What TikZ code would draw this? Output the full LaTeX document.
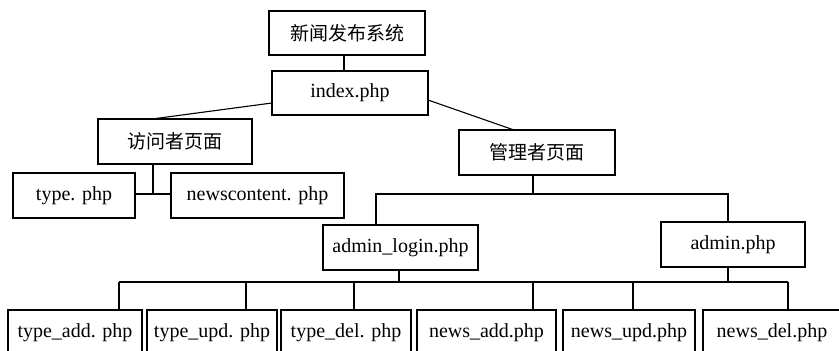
\documentclass[tikz,border=0pt]{standalone}
\usepackage{fontspec}
\setmainfont{Liberation Serif}
\newfontfamily\cjk{Noto Sans CJK SC}[Scale=0.95]
\begin{document}
\begin{tikzpicture}[x=1pt,y=-1pt,
  box/.style={draw, line width=1.1pt, inner sep=0pt, font=\fontsize{20}{22}\selectfont},
  conn/.style={line width=1.1pt}]
\useasboundingbox (0,0) rectangle (839,351);
\clip (0,0) rectangle (839,351);
% top levels
\node[box, minimum width=156pt, minimum height=44pt] (sys) at (347,33) {\cjk 新闻发布系统};
\node[box, minimum width=156pt, minimum height=44pt] (index) at (350,93) {index.php};
\node[box, minimum width=154pt, minimum height=45pt] (visitor) at (175,141.5) {\cjk 访问者页面};
\node[box, minimum width=156pt, minimum height=45pt] (manager) at (537,152.5) {\cjk 管理者页面};
\node[box, minimum width=122pt, minimum height=45pt] (type) at (74,195.5) {type. php};
\node[box, minimum width=173pt, minimum height=45pt] (newsc) at (257.5,195.5) {newscontent. php};
\node[box, minimum width=155pt, minimum height=45pt] (login) at (400.5,247.5) {admin\_login.php};
\node[box, minimum width=144pt, minimum height=45pt] (admin) at (733,244.5) {admin.php};
% bottom row
\node[box, minimum width=134pt, minimum height=45pt] (tadd) at (75,332.5) {type\_add. php};
\node[box, minimum width=130pt, minimum height=45pt] (tupd) at (212,332.5) {type\_upd. php};
\node[box, minimum width=130pt, minimum height=45pt] (tdel) at (346,332.5) {type\_del. php};
\node[box, minimum width=139pt, minimum height=45pt] (nadd) at (486.5,332.5) {news\_add.php};
\node[box, minimum width=132pt, minimum height=45pt] (nupd) at (629,332.5) {news\_upd.php};
\node[box, minimum width=138pt, minimum height=45pt] (ndel) at (772,332.5) {news\_del.php};
% coordinates
\coordinate (s1) at (344,55);
\coordinate (il) at (272,103);
\coordinate (vt) at (152,119);
\coordinate (ir) at (428,100);
\coordinate (mt) at (514,130);
\coordinate (vj) at (153,194);
\coordinate (mj) at (533,194);
\coordinate (mbl) at (376,194);
\coordinate (mbr) at (728,194);
\coordinate (lj) at (399,282);
\coordinate (aj) at (728,282);
\coordinate (b1) at (119,282);
\coordinate (b2) at (246,282);
\coordinate (b3) at (354,282);
\coordinate (b4) at (533,282);
\coordinate (b5) at (633,282);
\coordinate (b6) at (788,282);
% connectors
\draw[conn] (s1) -- (s1 |- index.north);
\draw[conn] (il) -- (vt);
\draw[conn] (ir) -- (mt);
\draw[conn] (vj |- visitor.south) -- (vj);
\draw[conn] (type.east |- vj) -- (newsc.west |- vj);
\draw[conn] (mj |- manager.south) -- (mj);
\draw[conn] (mbl |- login.north) -- (mbl) -- (mbr) -- (mbr |- admin.north);
\draw[conn] (lj |- login.south) -- (lj);
\draw[conn] (aj |- admin.south) -- (aj);
\draw[conn] (b1) -- (b6);
\draw[conn] (b1) -- (b1 |- tadd.north);
\draw[conn] (b2) -- (b2 |- tupd.north);
\draw[conn] (b3) -- (b3 |- tdel.north);
\draw[conn] (b4) -- (b4 |- nadd.north);
\draw[conn] (b5) -- (b5 |- nupd.north);
\draw[conn] (b6) -- (b6 |- ndel.north);
\end{tikzpicture}
\end{document}
